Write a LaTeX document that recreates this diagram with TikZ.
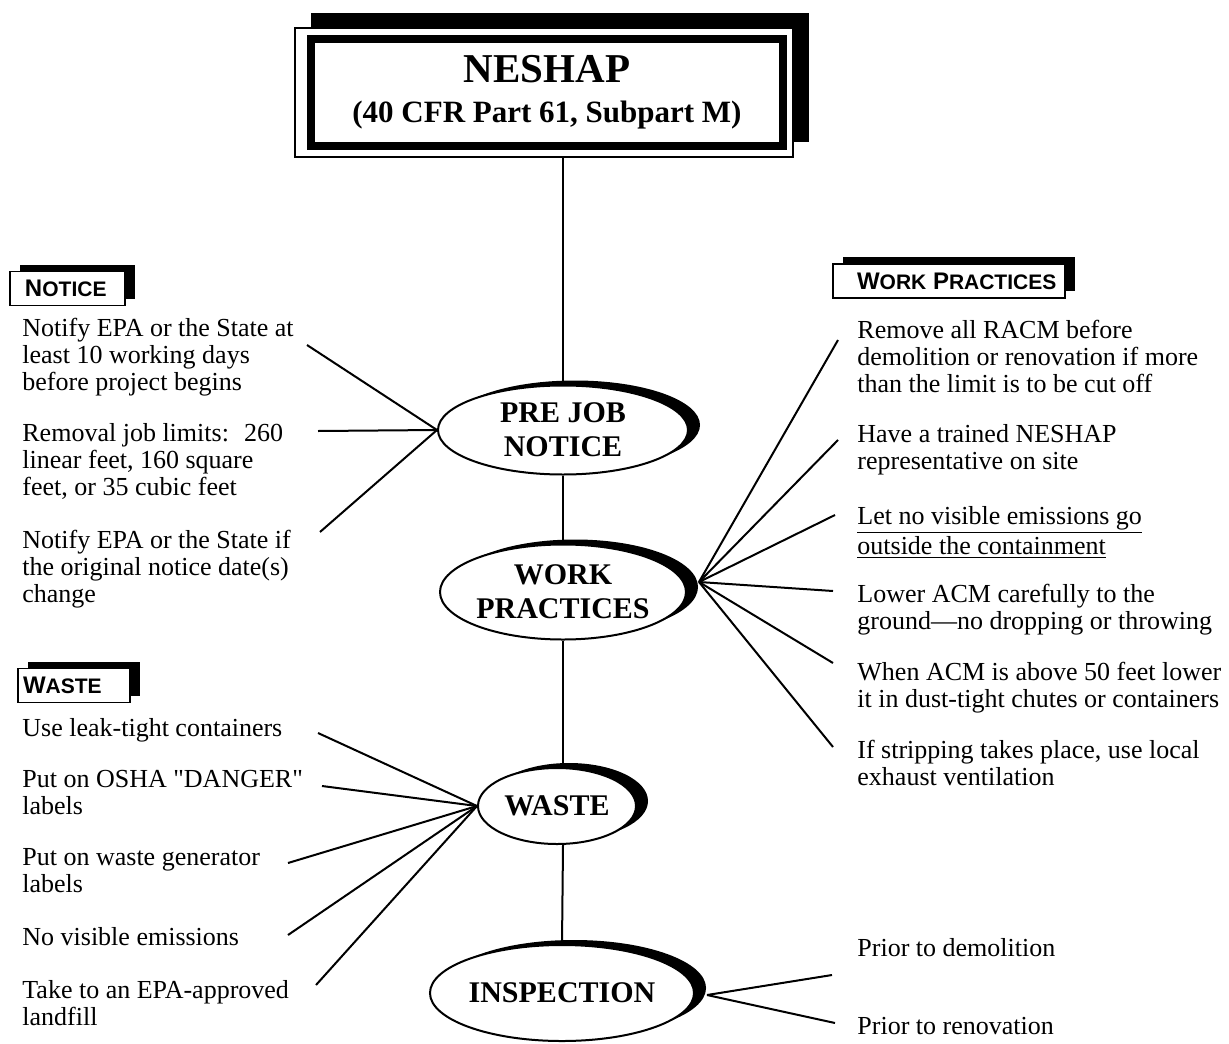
\documentclass[tikz,border=0pt]{standalone}
\usepackage{fontspec}
\setmainfont{Liberation Serif}
\newfontfamily\hdrfont{Liberation Sans}
\newfontfamily\qfont{Liberation Serif}
\usetikzlibrary{shapes.geometric,shadows}

% fake small caps for the box headings
\newcommand{\hdrcap}[2]{{\fontsize{12}{12}\selectfont #1}{\fontsize{10.5}{12}\selectfont #2}}

\begin{document}
\begin{tikzpicture}[x=0.5pt, y=-0.5pt,
	frame/.style={draw=black, line width=0.8pt, fill=white, minimum width=249pt, minimum height=64.5pt,
		general shadow={fill=black, shadow xshift=8pt, shadow yshift=7.5pt}},
	titlebox/.style={draw=black, line width=4pt, minimum width=236pt, minimum height=53.5pt, align=center,
		font=\fontsize{15.5}{20}\selectfont\bfseries},
	oval/.style={shape=ellipse, draw=black, line width=1pt, fill=white, inner sep=0pt, align=center,
		font=\fontsize{15}{17}\selectfont\bfseries,
		general shadow={fill=black, shadow xshift=6pt, shadow yshift=2.5pt}},
	header/.style={draw=black, line width=0.8pt, fill=white, inner ysep=0pt, minimum height=17pt, align=left,
		font=\hdrfont\bfseries, general shadow={fill=black, shadow xshift=5pt, shadow yshift=3.5pt}},
	item/.style={anchor=north west, inner sep=0pt, align=left, font=\fontsize{13}{13.5}\selectfont},
	spoke/.style={draw=black, line width=1pt}]

	\useasboundingbox (0,0) rectangle (1229,1043);

	% title
	\node[frame] (frame) at (544, 92.5) {};
	\node[titlebox] (neshap) at (547, 92.5) {{\fontsize{20.5}{20}\selectfont NESHAP}\\
		(40 CFR Part 61, Subpart M)};

	% the four steps
	\node[oval, minimum width=125pt, minimum height=44.5pt] (pre)   at (563, 430) {PRE JOB\\NOTICE};
	\node[oval, minimum width=123pt, minimum height=47.5pt] (work)  at (563, 592) {WORK\\PRACTICES};
	\node[oval, minimum width=79pt,  minimum height=38pt]   (waste) at (557, 806) {WASTE};
	\node[oval, minimum width=120pt, minimum height=48pt]   (insp)  at (562, 993) {INSPECTION};

	\path[spoke] (pre.north |- frame.south) edge (pre.north);
	\path[spoke] (pre.south) edge (work.north);
	\path[spoke] (work.south) edge (work.south |- waste.north);
	\path[spoke] (work.south |- waste.south) edge (insp.north);

	% headings
	\node[header, inner xsep=7.5pt, text width=42.5pt] (hnotice) at (67.5, 288.5) {\hdrcap{N}{OTICE}};
	\node[header, inner xsep=6pt, text width=104pt] (hwork) at (949, 281) {\hspace*{6pt}\mbox{\hdrcap{W}{ORK} \hdrcap{P}{RACTICES}}};
	\node[header, inner xsep=2.5pt, text width=51pt] (hwaste) at (74, 685.5) {\hdrcap{W}{ASTE}};

	% notice
	\node[item] (n1) at (22, 318) {Notify EPA or the State at\\least 10 working days\\before project begins};
	\node[item] (n2) at (22, 423) {Removal job limits:~ 260\\linear feet, 160 square\\feet, or 35 cubic feet};
	\node[item] (n3) at (22, 530) {Notify EPA or the State if\\the original notice date(s)\\change};

	% waste
	\node[item] (w1) at (22, 718) {Use leak-tight containers};
	\node[item] (w2) at (22, 770) {Put on OSHA {\qfont"}DANGER{\qfont"}\\labels};
	\node[item] (w3) at (22, 848) {Put on waste generator\\labels};
	\node[item] (w4) at (22, 927) {No visible emissions};
	\node[item] (w5) at (22, 980) {Take to an EPA-approved\\landfill};

	% work practices
	\node[item] (p1) at (857, 320) {Remove all RACM before\\demolition or renovation if more\\than the limit is to be cut off};
	\node[item] (p2) at (857, 424) {Have a trained NESHAP\\representative on site};
	\node[item] (p3) at (857, 506) {\underline{Let no visible emissions go}\\\underline{outside the containment}};
	\node[item] (p4) at (857, 584) {Lower ACM carefully to the\\ground---no dropping or throwing};
	\node[item] (p5) at (857, 662) {When ACM is above 50 feet lower\\it in dust-tight chutes or containers};
	\node[item] (p6) at (857, 740) {If stripping takes place, use local\\exhaust ventilation};

	% inspection
	\node[item] (i1) at (857, 938) {Prior to demolition};
	\node[item] (i2) at (857, 1017) {Prior to renovation};

	\path[spoke] (pre.west) edge ([shift={(285,27)}]n1.north west);
	\path[spoke] (pre.west) edge ([shift={(296,8)}]n2.north west);
	\path[spoke] (pre.west) edge ([shift={(298,2)}]n3.north west);

	\path[spoke] (waste.west) edge ([shift={(296,15)}]w1.north west);
	\path[spoke] (waste.west) edge ([shift={(300,16)}]w2.north west);
	\path[spoke] (waste.west) edge ([shift={(266,15)}]w3.north west);
	\path[spoke] (waste.west) edge ([shift={(266,8)}]w4.north west);
	\path[spoke] (waste.west) edge ([shift={(294,5)}]w5.north west);

	\path[spoke] ([shift={(12,-10)}]work.east) edge ([shift={(-19,20)}]p1.north west);
	\path[spoke] ([shift={(12,-10)}]work.east) edge ([shift={(-19,16)}]p2.north west);
	\path[spoke] ([shift={(12,-10)}]work.east) edge ([shift={(-22,9)}]p3.north west);
	\path[spoke] ([shift={(12,-10)}]work.east) edge ([shift={(-24,7)}]p4.north west);
	\path[spoke] ([shift={(12,-10)}]work.east) edge ([shift={(-24,1)}]p5.north west);
	\path[spoke] ([shift={(12,-10)}]work.east) edge ([shift={(-24,7)}]p6.north west);

	\path[spoke] ([shift={(12,2)}]insp.east) edge ([shift={(-25,37)}]i1.north west);
	\path[spoke] ([shift={(12,2)}]insp.east) edge ([shift={(-22,6)}]i2.north west);

\end{tikzpicture}
\end{document}
